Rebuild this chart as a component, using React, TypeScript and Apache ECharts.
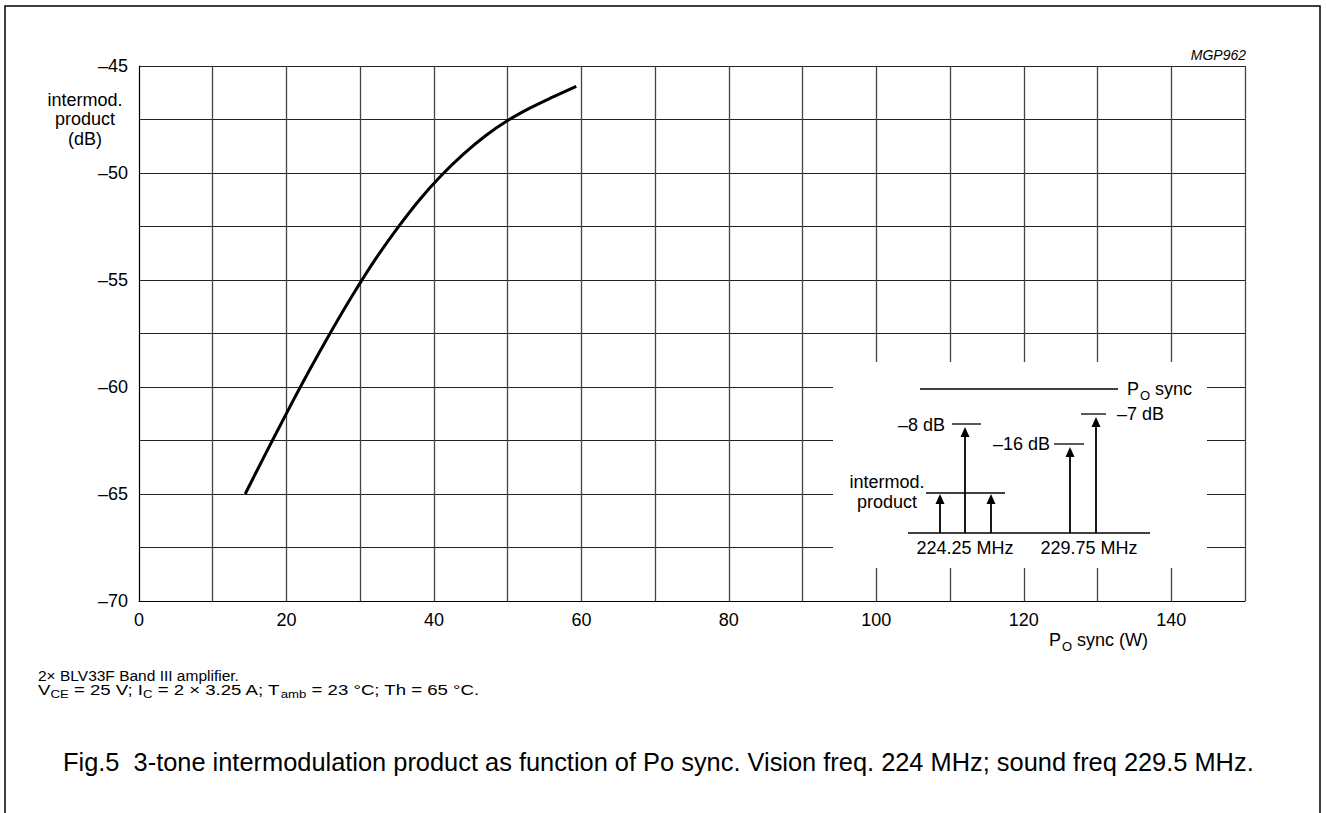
import React, { useEffect, useRef } from 'react';
import * as echarts from 'echarts';

// Curve: P_o sync (W) vs 3-tone intermodulation product (dB)
const powerW = [14.4, 17, 20, 23, 26, 29, 32, 35, 38, 41, 44, 47, 50, 53, 56, 59.3];
const intermodDb = [-65.0, -63.23, -61.23, -59.29, -57.44, -55.69, -54.06, -52.6, -51.27, -50.12, -49.12, -48.26, -47.55, -46.97, -46.47, -45.95];

// Tick labels
const xTickLabels = [0, 20, 40, 60, 80, 100, 120, 140];
const yTickLabels = [-70, -65, -60, -55, -50, -45];

// Inset spectrum diagram labels
const insetCarrierLabels = ['224.25 MHz', '229.75 MHz'];
const insetLevelLabels = ['\u20138 dB', '\u201316 dB', '\u20137 dB'];

const FONT = '"Liberation Sans", Arial, Helvetica, sans-serif';

export default function App() {
  const ref = useRef<HTMLDivElement>(null);

  useEffect(() => {
    if (!ref.current) return;
    const chart = echarts.init(ref.current, undefined, { renderer: 'svg' });

    const seriesData = powerW.map((x, i) => [x, intermodDb[i]]);

    // Inset geometry (annotation diagram)
    const Z = 100;
    const baseY = 533;
    const arrows: [number, number][] = [
      [940, 494],
      [965, 427],
      [991, 494],
      [1070, 447],
      [1096, 417],
    ];
    const ln = (x1: number, y1: number, x2: number, y2: number, w = 1.3) => ({
      type: 'line',
      z: Z + 1,
      shape: { x1, y1, x2, y2 },
      style: { stroke: '#000', lineWidth: w },
    });
    const insetChildren: any[] = [
      {
        type: 'rect',
        z: Z,
        shape: { x: 833, y: 362, width: 374, height: 206 },
        style: { fill: '#fff', stroke: 'none' },
      },
      ln(908, baseY, 1150, baseY),
      ln(926, 493, 1005, 493),
      ln(952, 424, 981, 424),
      ln(1054, 444, 1084, 444),
      ln(1081, 414, 1106, 414),
      ln(920, 389, 1118, 389),
    ];
    arrows.forEach(([x, tip]) => {
      insetChildren.push(ln(x, baseY, x, tip + 8, 1.8));
      insetChildren.push({
        type: 'polygon',
        z: Z + 1,
        shape: { points: [[x - 4.5, tip + 10], [x + 4.5, tip + 10], [x, tip]] },
        style: { fill: '#000', stroke: 'none' },
      });
    });
    const txt = (text: string, x: number, y: number, align: string) => ({
      type: 'text',
      z: Z + 1,
      x,
      y,
      style: {
        text,
        fill: '#000',
        fontSize: 18,
        fontFamily: FONT,
        align,
        verticalAlign: 'middle',
      },
    });
    insetChildren.push(txt(insetLevelLabels[0], 945, 425, 'right'));
    insetChildren.push(txt(insetLevelLabels[1], 1050, 444, 'right'));
    insetChildren.push(txt(insetLevelLabels[2], 1117, 414, 'left'));
    insetChildren.push(txt('intermod.', 887, 482, 'center'));
    insetChildren.push(txt('product', 887, 502, 'center'));
    insetChildren.push(txt(insetCarrierLabels[0], 965, 548, 'center'));
    insetChildren.push(txt(insetCarrierLabels[1], 1089, 548, 'center'));
    insetChildren.push({
      type: 'text',
      z: Z + 1,
      x: 1127,
      y: 380,
      style: {
        text: '{p|P}{o|O}{p| sync}',
        fill: '#000',
        align: 'left',
        verticalAlign: 'top',
        rich: {
          p: { fontSize: 18, fontFamily: FONT, lineHeight: 18, verticalAlign: 'top', fill: '#000' },
          o: { fontSize: 13, fontFamily: FONT, lineHeight: 13, padding: [9, 0, 0, 1], verticalAlign: 'top', fill: '#000' },
        },
      },
    });

    const option: any = {
      animation: false,
      backgroundColor: '#fff',
      grid: { left: 139, top: 66, right: 81, bottom: 212, containLabel: false },
      xAxis: {
        type: 'value',
        min: 0,
        max: 150,
        interval: 10,
        name: '{p|P}{o|O}{p| sync (W)}',
        nameLocation: 'end',
        nameGap: -196,
        nameTextStyle: {
          align: 'left',
          verticalAlign: 'top',
          padding: [30, 0, 0, 0],
          rich: {
            p: { fontSize: 18, fontFamily: FONT, lineHeight: 18, verticalAlign: 'top', color: '#000' },
            o: { fontSize: 13, fontFamily: FONT, lineHeight: 13, padding: [9, 0, 0, 1], verticalAlign: 'top', color: '#000' },
          },
        },
        axisLine: { show: true, lineStyle: { color: '#000', width: 1 } },
        axisTick: { show: false },
        axisLabel: {
          color: '#000',
          fontSize: 18,
          fontFamily: FONT,
          margin: 10,
          formatter: (v: number) => (xTickLabels.includes(v) ? String(v) : ''),
        },
        splitLine: { show: true, lineStyle: { color: '#444', width: 1.3 } },
      },
      yAxis: {
        type: 'value',
        min: -70,
        max: -45,
        interval: 2.5,
        name: 'intermod.\nproduct\n(dB)',
        nameLocation: 'end',
        nameGap: -53,
        nameTextStyle: {
          color: '#000',
          fontSize: 18,
          fontFamily: FONT,
          align: 'center',
          verticalAlign: 'middle',
          lineHeight: 19.5,
          padding: [0, 108, 0, 0],
        },
        axisLine: { show: true, lineStyle: { color: '#000', width: 1 } },
        axisTick: { show: false },
        axisLabel: {
          color: '#000',
          fontSize: 18,
          fontFamily: FONT,
          margin: 11,
          formatter: (v: number) => (yTickLabels.includes(v) ? '\u2013' + Math.abs(v) : ''),
        },
        splitLine: { show: true, lineStyle: { color: '#222', width: 1 } },
      },
      series: [
        {
          type: 'line',
          data: seriesData,
          smooth: 0.3,
          showSymbol: false,
          symbol: 'none',
          lineStyle: { color: '#000', width: 3 },
          z: 3,
        },
      ],
      graphic: [
        {
          type: 'polyline',
          shape: { points: [[5, 813], [5, 6], [1320, 6], [1320, 813]] },
          style: { stroke: '#000', lineWidth: 1.5, fill: 'none' },
        },
        {
          type: 'text',
          x: 1246,
          y: 55,
          style: {
            text: 'MGP962',
            fill: '#000',
            fontSize: 14,
            fontStyle: 'italic',
            fontFamily: FONT,
            align: 'right',
            verticalAlign: 'middle',
          },
        },
        { type: 'group', z: Z, children: insetChildren },
        {
          type: 'text',
          x: 38,
          y: 675,
          style: {
            text: '2\u00d7 BLV33F Band III amplifier.',
            fill: '#000',
            fontSize: 15.5,
            fontFamily: FONT,
            align: 'left',
            verticalAlign: 'middle',
          },
        },
        {
          type: 'text',
          x: 38,
          y: 682,
          scaleX: 1.2,
          style: {
            text:
              '{n|V}{s|CE}{n| = 25 V; I}{s|C}{n| = 2 \u00d7 3.25 A; T}{s|amb}{n| = 23 \u00b0C; Th = 65 \u00b0C.}',
            fill: '#000',
            align: 'left',
            verticalAlign: 'top',
            rich: {
              n: { fontSize: 15.5, fontFamily: FONT, lineHeight: 16, verticalAlign: 'top', fill: '#000' },
              s: { fontSize: 11, fontFamily: FONT, lineHeight: 11, padding: [7, 0, 0, 0], verticalAlign: 'top', fill: '#000' },
            },
          },
        },
        {
          type: 'text',
          x: 63,
          y: 762,
          style: {
            text:
              'Fig.5  3-tone intermodulation product as function of Po sync. Vision freq. 224 MHz; sound freq 229.5 MHz.',
            fill: '#000',
            fontSize: 25.4,
            fontFamily: FONT,
            align: 'left',
            verticalAlign: 'middle',
          },
        },
      ],
    };

    chart.setOption(option);
    return () => chart.dispose();
  }, []);

  return (
    <div
      ref={ref}
      style={{ position: 'absolute', left: 0, top: 0, width: 1326, height: 813, background: '#fff' }}
    />
  );
}
